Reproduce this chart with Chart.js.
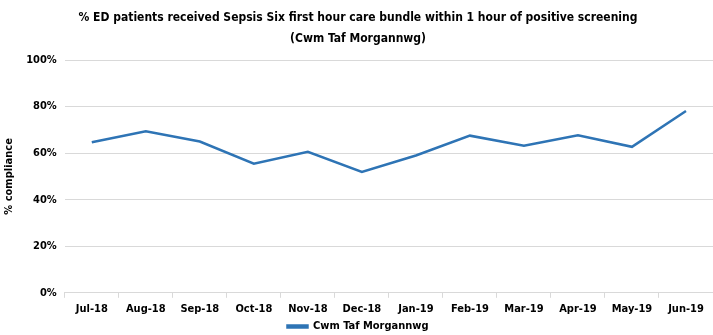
<!DOCTYPE html>
<html>
<head>
<meta charset="utf-8">
<script src="https://cdn.jsdelivr.net/npm/chart.js@4/dist/chart.umd.min.js"></script>
<style>
  html, body { margin: 0; padding: 0; background: #fff; }
  #wrap { width: 713px; height: 335px; }
</style>
</head>
<body>
<div id="wrap"><canvas id="chart" width="713" height="335"></canvas></div>
<script>
// data
const months = ["Jul-18", "Aug-18", "Sep-18", "Oct-18", "Nov-18", "Dec-18",
                "Jan-19", "Feb-19", "Mar-19", "Apr-19", "May-19", "Jun-19"];
const compliance = [64.7, 69.4, 65.0, 55.5, 60.6, 51.9, 59.0, 67.5, 63.2, 67.7, 62.7, 78.1];
const yTicks = [0, 20, 40, 60, 80, 100];

const FONT = "'Liberation Sans Narrow', 'DejaVu Sans Condensed', 'Liberation Sans', sans-serif";

Chart.defaults.font.family = FONT;
Chart.defaults.color = "#000";

new Chart(document.getElementById("chart").getContext("2d"), {
    type: "line",
    data: {
        labels: months,
        datasets: [{
            label: "Cwm Taf Morgannwg",
            data: compliance,
            borderColor: "#2e74b5",
            backgroundColor: "#2e74b5",
            borderWidth: 2.5,
            pointRadius: 0,
            tension: 0,
            fill: false
        }]
    },
    options: {
        responsive: false,
        animation: false,
        layout: { padding: { left: 3, right: 0, top: 1, bottom: -7 } },
        plugins: {
            title: {
                display: true,
                text: ["% ED patients received Sepsis Six first hour care bundle within 1 hour of positive screening",
                       "(Cwm Taf Morgannwg)"],
                font: { size: 12, weight: "bold", lineHeight: 1.75 },
                padding: { top: 6, bottom: 11 }
            },
            legend: {
                position: "bottom",
                labels: {
                    boxWidth: 20,
                    boxHeight: 2,
                    padding: 0,
                    font: { size: 11, weight: "bold" }
                }
            },
            tooltip: { enabled: false }
        },
        scales: {
            x: {
                offset: true,
                grid: {
                    display: true,
                    offset: true,
                    drawOnChartArea: false,
                    drawTicks: true,
                    tickLength: 5,
                    color: "#d9d9d9"
                },
                border: { display: true, color: "#d9d9d9" },
                ticks: {
                    font: { size: 11, weight: "bold" },
                    maxRotation: 0,
                    autoSkip: false,
                    padding: 5
                }
            },
            y: {
                min: 0,
                max: 100,
                afterBuildTicks: (axis) => {
                    axis.ticks = yTicks.map(v => ({ value: v }));
                },
                grid: { color: "#d9d9d9", drawTicks: false },
                border: { display: false },
                ticks: {
                    font: { size: 11, weight: "bold" },
                    padding: 8,
                    callback: (v) => v + "%"
                },
                title: {
                    display: true,
                    text: "% compliance",
                    font: { size: 11, weight: "bold" },
                    padding: { top: 0, bottom: 2 }
                }
            }
        }
    }
});
</script>
</body>
</html>
